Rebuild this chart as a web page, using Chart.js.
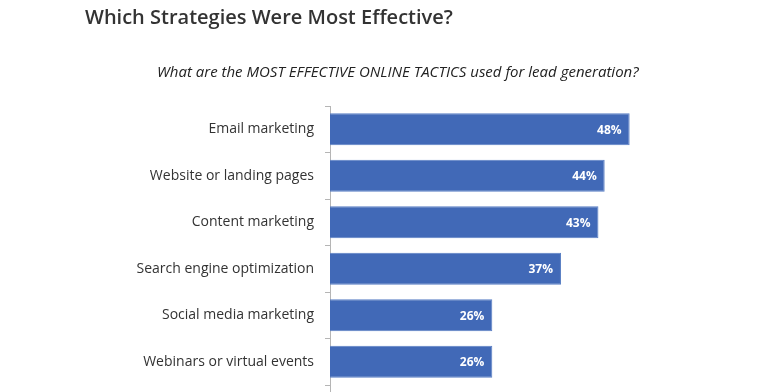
<!DOCTYPE html>
<html><head><meta charset="utf-8">
<script src="https://cdn.jsdelivr.net/npm/chart.js@4.4.1/dist/chart.umd.min.js"></script>
<style>
html,body{margin:0;padding:0;background:#fff;overflow:hidden}
#wrap{position:relative;width:768px;height:392px}
#title{position:absolute;left:85px;top:3px;font:600 20px "Open Sans",sans-serif;color:#333;white-space:nowrap}
#sub{position:absolute;left:157px;top:61px;font:italic 15px "Open Sans",sans-serif;color:#222;white-space:nowrap}
canvas{position:absolute;left:0;top:0}
</style></head>
<body>
<div id="wrap">
<canvas id="c" width="768" height="392"></canvas>
<div id="title">Which Strategies Were Most Effective?</div>
<div id="sub">What are the MOST EFFECTIVE ONLINE TACTICS used for lead generation?</div>
</div>
<script>
const categories = ["Email marketing","Website or landing pages","Content marketing","Search engine optimization","Social media marketing","Webinars or virtual events"];
const values = [48,44,43,37,26,26];
const xMax = 70;

const valueLabels = {
  id:'valueLabels',
  afterDatasetsDraw(chart){
    const ctx = chart.ctx;
    const meta = chart.getDatasetMeta(0);
    ctx.save();
    ctx.fillStyle = '#ffffff';
    ctx.font = 'bold 12px "Open Sans", sans-serif';
    ctx.textAlign = 'right';
    ctx.textBaseline = 'middle';
    meta.data.forEach((bar,i)=>{
      ctx.fillText(values[i] + '%', bar.x - 8, bar.y + 1);
    });
    ctx.restore();
  }
};
const axisExtend = {
  id:'axisExtend',
  afterDraw(chart){
    const ctx = chart.ctx, a = chart.chartArea;
    ctx.save();
    ctx.strokeStyle = '#b5b5b5';
    ctx.lineWidth = 1;
    ctx.beginPath();
    ctx.moveTo(Math.round(a.left) + 0.5, a.bottom);
    ctx.lineTo(Math.round(a.left) + 0.5, chart.height);
    ctx.stroke();
    ctx.restore();
  }
};

new Chart(document.getElementById('c'), {
  type:'bar',
  data:{labels:categories, datasets:[{data:values, backgroundColor:'#4169b7', borderColor:'#5a7fc4', borderWidth:1, barPercentage:0.69, categoryPercentage:1}]},
  options:{
    indexAxis:'y',
    responsive:false,
    animation:false,
    layout:{padding:{top:106,bottom:7,left:85,right:1}},
    plugins:{legend:{display:false},tooltip:{enabled:false},title:{display:false}},
    scales:{
      x:{display:false,min:0,max:xMax},
      y:{
        afterFit(s){ s.width = 245; s.paddingTop = 0; s.paddingBottom = 0; },
        grid:{offset:true,drawOnChartArea:false,tickLength:5,color:'#b5b5b5'},
        border:{color:'#b5b5b5'},
        ticks:{padding:11,color:'#333',font:{family:'"Open Sans", sans-serif',size:14}}
      }
    }
  },
  plugins:[valueLabels, axisExtend]
});
</script>
</body></html>
